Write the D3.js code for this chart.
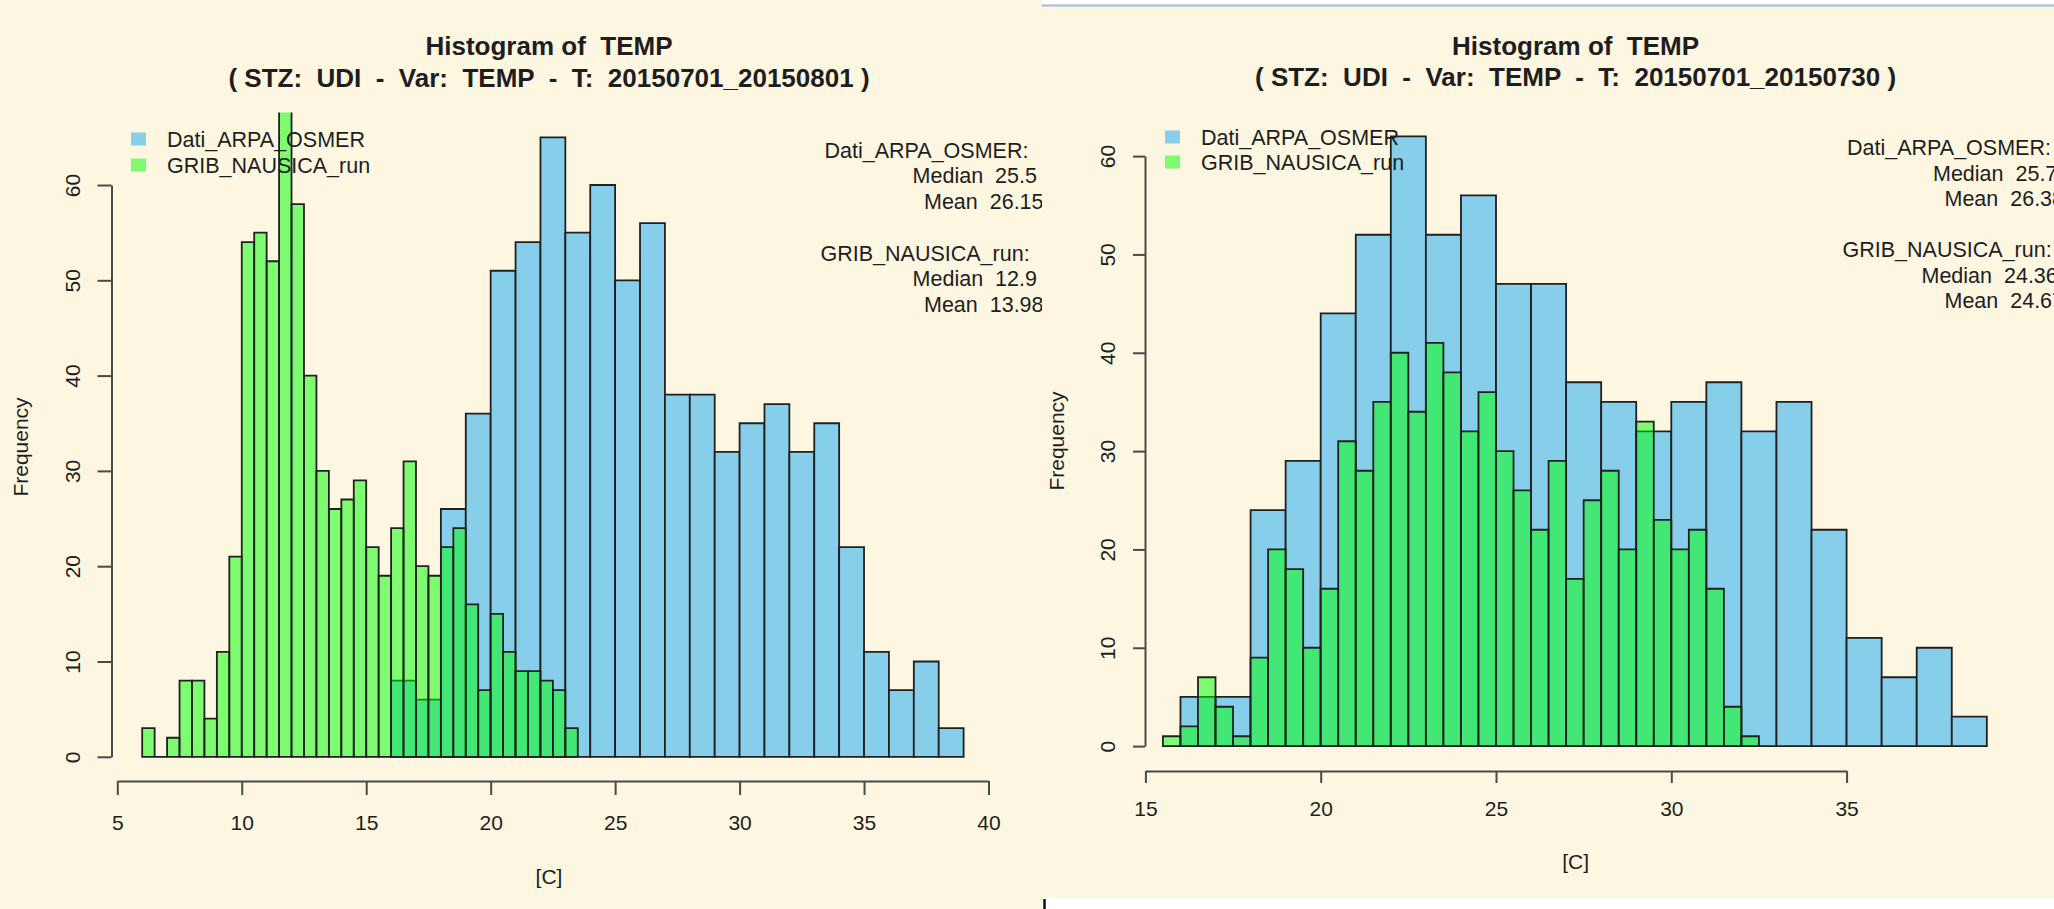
<!DOCTYPE html>
<html>
<head>
<meta charset="utf-8">
<script src="https://cdn.jsdelivr.net/npm/d3@7"></script>
<style>
body { margin: 0; background: #fff; }
svg { display: block; }
text { font-family: "Liberation Sans", Arial, Helvetica, sans-serif; fill: #1e1e1e; white-space: pre; }
</style>
</head>
<body>
<div id="container"></div>
<script>

// ---- data ----
var seriesNames = ['Dati_ARPA_OSMER', 'GRIB_NAUSICA_run'];
var yTicks = [0, 10, 20, 30, 40, 50, 60];
var xTicksLeft = [5, 10, 15, 20, 25, 30, 35, 40];
var xTicksRight = [15, 20, 25, 30, 35];

// left: T 20150701_20150801
var leftOsmerStart = 16, leftOsmerWidth = 1;
var leftOsmerCounts = [8, 6, 26, 36, 51, 54, 65, 55, 60, 50, 56, 38, 38, 32, 35, 37, 32, 35, 22, 11, 7, 10, 3];
var leftGribStart = 6, leftGribWidth = 0.5;
var leftGribCounts = [3, 0, 2, 8, 8, 4, 11, 21, 54, 55, 52, 70, 58, 40, 30, 26, 27, 29, 22, 19, 24, 31, 20, 19, 22, 24, 16, 7, 15, 11, 9, 9, 8, 7, 3];
var leftStats = ['Dati_ARPA_OSMER:', 'Median  25.5', 'Mean  26.15', '', 'GRIB_NAUSICA_run:', 'Median  12.9', 'Mean  13.98'];

// right: T 20150701_20150730
var rightOsmerStart = 16, rightOsmerWidth = 1;
var rightOsmerCounts = [5, 5, 24, 29, 44, 52, 62, 52, 56, 47, 47, 37, 35, 32, 35, 37, 32, 35, 22, 11, 7, 10, 3];
var rightGribStart = 15.5, rightGribWidth = 0.5;
var rightGribCounts = [1, 2, 7, 4, 1, 9, 20, 18, 10, 16, 31, 28, 35, 40, 34, 41, 38, 32, 36, 30, 26, 22, 29, 17, 25, 28, 20, 33, 23, 20, 22, 16, 4, 1];
var rightStats = ['Dati_ARPA_OSMER:', 'Median  25.7', 'Mean  26.38', '', 'GRIB_NAUSICA_run:', 'Median  24.36', 'Mean  24.67'];

var titleMain = 'Histogram of  TEMP';
var leftSub = '( STZ:  UDI  -  Var:  TEMP  -  T:  20150701_20150801 )';
var rightSub = '( STZ:  UDI  -  Var:  TEMP  -  T:  20150701_20150730 )';

// ---- look ----
var cream = '#fdf6e0';
var blueFill = '#87ceeb';
var greenFill = 'rgba(0,255,0,0.5)';
var barStroke = '#202020';
var axisColor = '#4a4a4a';

var svg = d3.select('div#container')
	.append('svg')
	.attr('width', 2054)
	.attr('height', 909);

svg.append('rect').attr('x', 0).attr('y', 0).attr('width', 2054).attr('height', 909).attr('fill', '#fff');
svg.append('rect').attr('x', 0).attr('y', 0).attr('width', 1042).attr('height', 909).attr('fill', cream);
svg.append('rect').attr('x', 1042).attr('y', 6).attr('width', 1012).attr('height', 892).attr('fill', cream);
svg.append('line')
	.attr('x1', 1042).attr('x2', 2054).attr('y1', 5.5).attr('y2', 5.5)
	.attr('stroke', '#a7b9d6').attr('stroke-width', 2);
svg.append('line')
	.attr('x1', 1044.5).attr('x2', 1044.5).attr('y1', 899).attr('y2', 909)
	.attr('stroke', '#111').attr('stroke-width', 2.5);

var defs = svg.append('defs');

// one histogram panel
function drawPanel(cfg) {
	var x = d3.scaleLinear().domain(cfg.xDomain).range(cfg.xRange);
	var y = d3.scaleLinear().domain([0, 60]).range(cfg.yRange);

	// the screenshot of each panel is cut at its edges
	defs.append('clipPath')
		.attr('id', cfg.id + '-panel')
		.append('rect')
		.attr('x', cfg.panel[0]).attr('y', 0)
		.attr('width', cfg.panel[1] - cfg.panel[0]).attr('height', 909);

	defs.append('clipPath')
		.attr('id', cfg.id + '-clip')
		.append('rect')
		.attr('x', cfg.axisX)
		.attr('y', cfg.plotTop)
		.attr('width', cfg.plotRight - cfg.axisX)
		.attr('height', cfg.axisY - cfg.plotTop);

	var g = svg.append('g')
		.attr('class', cfg.id)
		.attr('clip-path', 'url(#' + cfg.id + '-panel)');

	// titles
	g.append('text')
		.attr('x', cfg.titleX).attr('y', cfg.titleY[0])
		.attr('text-anchor', 'middle')
		.attr('font-weight', 'bold').attr('font-size', '26px')
		.text(titleMain);
	g.append('text')
		.attr('x', cfg.titleX).attr('y', cfg.titleY[1])
		.attr('text-anchor', 'middle')
		.attr('font-weight', 'bold').attr('font-size', '26px')
		.text(cfg.subtitle);

	function bins(start, width, counts) {
		return counts.map(function(c, i) {
			return {x0: start + i * width, x1: start + (i + 1) * width, n: c};
		});
	}
	function barPath(d) {
		var xa = x(d.x0), xb = x(d.x1), y0 = y(0), y1 = y(d.n);
		return 'M' + xa + ',' + y0 + 'H' + xb + 'V' + y1 + 'H' + xa + 'Z';
	}

	var bars = g.append('g').attr('clip-path', 'url(#' + cfg.id + '-clip)');

	bars.selectAll('path.osmer')
		.data(bins(cfg.osmerStart, cfg.osmerWidth, cfg.osmerCounts))
		.join('path')
		.attr('class', 'osmer')
		.attr('d', barPath)
		.attr('fill', blueFill)
		.attr('stroke', barStroke)
		.attr('stroke-width', 1.8);

	bars.selectAll('path.grib')
		.data(bins(cfg.gribStart, cfg.gribWidth, cfg.gribCounts))
		.join('path')
		.attr('class', 'grib')
		.attr('d', barPath)
		.attr('fill', greenFill)
		.attr('stroke', barStroke)
		.attr('stroke-width', 1.8);

	// x axis
	var xAxis = g.append('g')
		.attr('transform', 'translate(0,' + cfg.axisY + ')')
		.call(d3.axisBottom(x)
			.tickValues(cfg.xTicks)
			.tickSizeInner(cfg.tickLen)
			.tickSizeOuter(0)
			.tickPadding(cfg.xLabelOff - cfg.tickLen - 7.5)
			.tickFormat(d3.format('d')));
	xAxis.select('.domain').attr('stroke', axisColor).attr('stroke-width', 2);
	xAxis.selectAll('.tick line').attr('stroke', axisColor).attr('stroke-width', 2);
	xAxis.selectAll('.tick text')
		.attr('font-size', '21px')
		.attr('font-family', null)
		.attr('fill', '#1e1e1e');

	// y axis, labels parallel to the axis as R does
	var yAxis = g.append('g')
		.attr('transform', 'translate(' + cfg.axisX + ',0)')
		.call(d3.axisLeft(y)
			.tickValues(yTicks)
			.tickSizeInner(cfg.tickLen)
			.tickSizeOuter(0));
	yAxis.select('.domain').attr('stroke', axisColor).attr('stroke-width', 2);
	yAxis.selectAll('.tick line').attr('stroke', axisColor).attr('stroke-width', 2);
	yAxis.selectAll('.tick text')
		.attr('font-size', '21px')
		.attr('font-family', null)
		.attr('fill', '#1e1e1e')
		.attr('transform', 'rotate(-90)')
		.attr('text-anchor', 'middle')
		.attr('x', 0)
		.attr('y', -cfg.yLabelOff)
		.attr('dy', '0.36em');

	// axis titles
	g.append('text')
		.attr('x', cfg.titleX).attr('y', cfg.xTitleY)
		.attr('text-anchor', 'middle')
		.attr('dy', '0.36em')
		.attr('font-size', '21px')
		.text('[C]');
	g.append('text')
		.attr('transform', 'translate(' + cfg.freqX + ',' + cfg.freqY + ') rotate(-90)')
		.attr('text-anchor', 'middle')
		.attr('dy', '0.36em')
		.attr('font-size', '21px')
		.text('Frequency');

	// legend
	var legendColors = [blueFill, greenFill];
	var legend = g.selectAll('g.legend')
		.data(seriesNames)
		.join('g')
		.attr('class', 'legend')
		.attr('transform', function(d, i) { return 'translate(0,' + cfg.legendY[i] + ')'; });
	legend.append('rect')
		.attr('x', cfg.legendX)
		.attr('y', -6.5)
		.attr('width', 15)
		.attr('height', 13)
		.attr('fill', function(d, i) { return legendColors[i]; });
	legend.append('text')
		.attr('x', cfg.legendX + 36)
		.attr('dy', '0.36em')
		.attr('font-size', '21.5px')
		.text(function(d) { return d; });

	// summary text, top right
	g.selectAll('text.stat')
		.data(cfg.stats)
		.join('text')
		.attr('class', 'stat')
		.attr('x', function(d, i) { return cfg.statX[i]; })
		.attr('y', function(d, i) { return cfg.statTop + i * cfg.statStep; })
		.attr('font-size', '21.5px')
		.text(function(d) { return d; });
}

drawPanel({
	id: 'left',
	panel: [0, 1042],
	subtitle: leftSub,
	xDomain: [5, 40], xRange: [117.3, 988.5],
	yRange: [756.8, 185],
	xTicks: xTicksLeft,
	axisX: 111.5, axisY: 781, plotTop: 112.6, plotRight: 1040,
	tickLen: 14, xLabelOff: 42, yLabelOff: 39,
	titleX: 549, titleY: [55, 86.5], xTitleY: 876,
	freqX: 20, freqY: 447,
	legendX: 131, legendY: [139, 165],
	osmerStart: leftOsmerStart, osmerWidth: leftOsmerWidth, osmerCounts: leftOsmerCounts,
	gribStart: leftGribStart, gribWidth: leftGribWidth, gribCounts: leftGribCounts,
	stats: leftStats,
	statX: [824.5, 912.6, 924, 924, 820.5, 912.6, 924],
	statTop: 157.7, statStep: 25.7
});

drawPanel({
	id: 'right',
	panel: [1042, 2054],
	subtitle: rightSub,
	xDomain: [15, 35], xRange: [1145.4, 1846.6],
	yRange: [746.1, 156.1],
	xTicks: xTicksRight,
	axisX: 1145, axisY: 771, plotTop: 100, plotRight: 2054,
	tickLen: 12, xLabelOff: 38, yLabelOff: 37.5,
	titleX: 1575.6, titleY: [54.5, 86], xTitleY: 861,
	freqX: 1056, freqY: 441,
	legendX: 1165, legendY: [137, 162],
	osmerStart: rightOsmerStart, osmerWidth: rightOsmerWidth, osmerCounts: rightOsmerCounts,
	gribStart: rightGribStart, gribWidth: rightGribWidth, gribCounts: rightGribCounts,
	stats: rightStats,
	statX: [1847, 1933, 1944.5, 1944.5, 1842.5, 1921.5, 1944.5],
	statTop: 155, statStep: 25.5
});

</script>
</body>
</html>
